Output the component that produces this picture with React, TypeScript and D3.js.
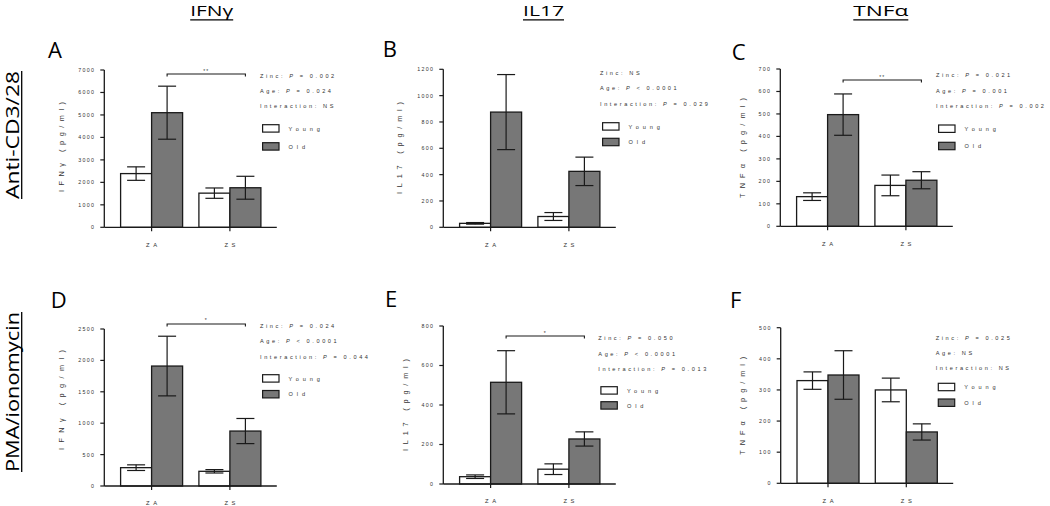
import React from "react";
import * as d3 from "d3";

// ---------- DATA ----------
const categories = ["ZA", "ZS"];
const groups = ["Young", "Old"];
const panelIds = ["A", "B", "C", "D", "E", "F"];
const cytokines = ["IFNγ", "IL17", "TNFα"];
const stimuli = ["Anti-CD3/28", "PMA/ionomycin"];
const yAxisTitles = ["IFNγ (pg/ml)", "IL17 (pg/ml)", "TNFα (pg/ml)", "IFNγ (pg/ml)", "IL17 (pg/ml)", "TNFα (pg/ml)"];
const yMax = [7000, 1200, 700, 2500, 800, 500];
const yTickStep = [1000, 200, 100, 500, 200, 100];
const youngMean = [[2390, 1520], [30, 82], [132, 182], [292, 234], [37, 75], [330, 300]];
const youngErr = [[300, 230], [6, 30], [17, 46], [45, 27], [9, 27], [28, 38]];
const oldMean = [[5100, 1760], [875, 425], [497, 205], [1910, 875], [515, 228], [348, 165]];
const oldErr = [[1180, 510], [285, 108], [92, 38], [475, 200], [160, 36], [78, 26]];
const zincStats = ["P = 0.002", "NS", "P = 0.021", "P = 0.024", "P = 0.050", "P = 0.025"];
const ageStats = ["P = 0.024", "P < 0.0001", "P = 0.001", "P < 0.0001", "P < 0.0001", "NS"];
const interactionStats = ["NS", "P = 0.029", "P = 0.002", "P = 0.044", "P = 0.013", "NS"];
const bracketStars = ["**", "", "**", "*", "*", ""];
const bracketLevel = [6820, 0, 651, 2580, 749, 0];

// ---------- LAYOUT ----------
const axisX = [104.3, 443.3, 780.3, 104.3, 443.3, 780.7];
const zeroY = [227.3, 227.3, 226.3, 486, 484, 483.3];
const topY = [70, 69.3, 69, 329, 326, 327.7];
const annX = [260, 600, 936, 260, 598.3, 935.7];
const annY = [75.7, 72.7, 75, 325.7, 338, 338.3];
const annGap = [15, 15.6, 15.5, 15.5, 15.5, 15];
const legY = [124.7, 122.7, 125, 374.7, 386.7, 383.3];
const legGap = [18, 15.6, 17.3, 15.8, 15, 15.7];
const yLabX = [61.5, 399, 741.7, 61.5, 405, 741.7];
const yLabY = [147, 148, 148, 400, 405, 405.7];
const yLabLen = [90, 92, 100, 100, 92, 98];
const letterPos = [[48, 58.3], [382.7, 57.3], [731.7, 60], [50.7, 308.3], [385, 307], [730, 308.3]];
const headerX = [211.7, 543.5, 880.8];
const headerLen = [43, 41, 55];
const rowLabY = [135, 392];
const rowLabLen = [128, 160];

const SMALL = "'Liberation Sans', Arial, sans-serif";
const BIG = "'Open Sans', 'Liberation Sans', sans-serif";
const INK = "#1a1a1a";
const OLD_FILL = "#777777";
const BAR_W = 31;

function Stat({ x, y, label, value }: { x: number; y: number; label: string; value: string }) {
  const italic = value.startsWith("P");
  return (
    <text x={x} y={y + 2} fontFamily={SMALL} fontSize={5.6} letterSpacing={2.6} fill="#333">
      {label + ": "}
      {italic ? (
        <>
          <tspan fontStyle="italic">P</tspan>
          {value.slice(1)}
        </>
      ) : (
        value
      )}
    </text>
  );
}

function Panel({ i }: { i: number }) {
  const ax = axisX[i];
  const y = d3.scaleLinear().domain([0, yMax[i]]).range([zeroY[i], topY[i]]);
  const x = d3.scalePoint<string>().domain(categories).range([ax + 47.3, ax + 125.6]);
  const ticks = d3.range(0, yMax[i] + yTickStep[i] / 2, yTickStep[i]);
  const series = [
    { name: groups[0], mean: youngMean[i], err: youngErr[i], fill: "#ffffff", off: -BAR_W },
    { name: groups[1], mean: oldMean[i], err: oldErr[i], fill: OLD_FILL, off: 0 },
  ];
  const [lx, ly] = letterPos[i];
  const star = bracketStars[i];
  return (
    <g>
      <text x={lx} y={ly} fontFamily={BIG} fontSize={22} fill="#000">
        {panelIds[i]}
      </text>
      {series.map((s) =>
        categories.map((c, k) => {
          const bx = (x(c) as number) + s.off;
          return (
            <rect
              key={s.name + c}
              x={bx}
              y={y(s.mean[k])}
              width={BAR_W}
              height={zeroY[i] - y(s.mean[k])}
              fill={s.fill}
              stroke={INK}
              strokeWidth={1.3}
            />
          );
        })
      )}
      {series.map((s) =>
        categories.map((c, k) => {
          const cx = (x(c) as number) + s.off + BAR_W / 2;
          const hi = y(s.mean[k] + s.err[k]);
          const lo = y(s.mean[k] - s.err[k]);
          return (
            <g key={"e" + s.name + c} stroke={INK} strokeWidth={1.2}>
              <line x1={cx} x2={cx} y1={hi} y2={lo} />
              <line x1={cx - 9} x2={cx + 9} y1={hi} y2={hi} />
              <line x1={cx - 9} x2={cx + 9} y1={lo} y2={lo} />
            </g>
          );
        })
      )}
      <line x1={ax} x2={ax} y1={topY[i]} y2={zeroY[i]} stroke={INK} strokeWidth={1.3} />
      <line x1={ax} x2={ax + 172.5} y1={zeroY[i]} y2={zeroY[i]} stroke={INK} strokeWidth={1.3} />
      {ticks.map((t) => (
        <g key={t}>
          <line x1={ax - 4} x2={ax} y1={y(t)} y2={y(t)} stroke={INK} strokeWidth={1.2} />
          <text
            x={ax - 9}
            y={y(t) + 1.9}
            textAnchor="end"
            fontFamily={SMALL}
            fontSize={5.3}
            letterSpacing={1.3}
            fill="#333"
          >
            {String(t)}
          </text>
        </g>
      ))}
      {categories.map((c) => (
        <g key={c}>
          <line x1={x(c)} x2={x(c)} y1={zeroY[i]} y2={zeroY[i] + 4} stroke={INK} strokeWidth={1.2} />
          <text
            x={(x(c) as number) + 1.8}
            y={zeroY[i] + 19.3}
            textAnchor="middle"
            fontFamily={SMALL}
            fontSize={5.8}
            letterSpacing={3.6}
            fill="#333"
          >
            {c}
          </text>
        </g>
      ))}
      <text
        transform={`translate(${yLabX[i] + 2.8},${yLabY[i]}) rotate(-90)`}
        textAnchor="middle"
        fontFamily={SMALL}
        fontSize={7.3}
        textLength={yLabLen[i]}
        lengthAdjust="spacing"
        fill="#333"
      >
        {yAxisTitles[i]}
      </text>
      {star && (
        <g>
          <path
            d={`M${(x(categories[0]) as number) + BAR_W / 2},${y(bracketLevel[i]) + 2.5}V${y(bracketLevel[i])}H${
              (x(categories[1]) as number) + BAR_W / 2
            }V${y(bracketLevel[i]) + 2.5}`}
            fill="none"
            stroke={INK}
            strokeWidth={1.1}
          />
          <text
            x={((x(categories[0]) as number) + (x(categories[1]) as number)) / 2 + BAR_W / 2}
            y={y(bracketLevel[i]) - 1.5}
            textAnchor="middle"
            fontFamily={SMALL}
            fontSize={5}
            letterSpacing={1}
            fill="#333"
          >
            {star}
          </text>
        </g>
      )}
      <Stat x={annX[i]} y={annY[i]} label="Zinc" value={zincStats[i]} />
      <Stat x={annX[i]} y={annY[i] + annGap[i]} label="Age" value={ageStats[i]} />
      <Stat x={annX[i]} y={annY[i] + 2 * annGap[i]} label="Interaction" value={interactionStats[i]} />
      {series.map((s, k) => (
        <g key={"l" + s.name}>
          <rect
            x={annX[i] + 2.6}
            y={legY[i] + k * legGap[i]}
            width={16.4}
            height={7.4}
            fill={s.fill}
            stroke={INK}
            strokeWidth={1.2}
          />
          <text
            x={annX[i] + 28.6}
            y={legY[i] + k * legGap[i] + 5.8}
            fontFamily={SMALL}
            fontSize={5.6}
            letterSpacing={3.9}
            fill="#333"
          >
            {s.name}
          </text>
        </g>
      ))}
    </g>
  );
}

export default function App() {
  return (
    <svg width={1050} height={506} style={{ display: "block", position: "absolute", left: 0, top: 0 }}>
      <rect width={1050} height={506} fill="#ffffff" />
      {cytokines.map((c, k) => (
        <g key={c}>
          <text
            x={headerX[k]}
            y={16.3}
            textAnchor="middle"
            fontFamily={BIG}
            fontSize={15}
            textLength={headerLen[k]}
            lengthAdjust="spacingAndGlyphs"
            fill="#000"
          >
            {c}
          </text>
          <line
            x1={headerX[k] - headerLen[k] / 2}
            x2={headerX[k] + headerLen[k] / 2}
            y1={19.8}
            y2={19.8}
            stroke="#000"
            strokeWidth={1.3}
          />
        </g>
      ))}
      {stimuli.map((s, k) => (
        <g key={s}>
          <text
            transform={`translate(18.5,${rowLabY[k]}) rotate(-90)`}
            textAnchor="middle"
            fontFamily={BIG}
            fontSize={19}
            textLength={rowLabLen[k]}
            lengthAdjust="spacingAndGlyphs"
            fill="#000"
          >
            {s}
          </text>
          <line
            x1={21.7}
            x2={21.7}
            y1={rowLabY[k] - rowLabLen[k] / 2}
            y2={rowLabY[k] + rowLabLen[k] / 2}
            stroke="#000"
            strokeWidth={1.3}
          />
        </g>
      ))}
      {panelIds.map((p, i) => (
        <Panel key={p} i={i} />
      ))}
    </svg>
  );
}
